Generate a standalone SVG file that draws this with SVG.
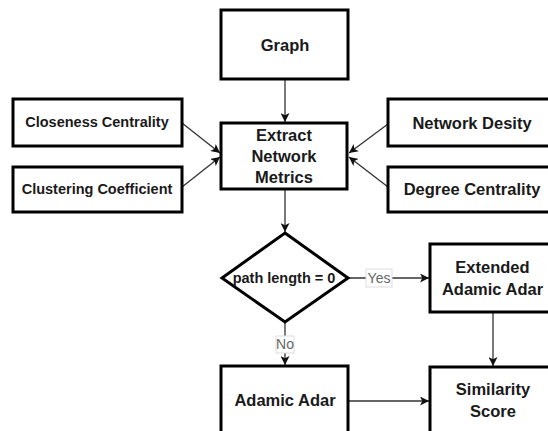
<svg xmlns="http://www.w3.org/2000/svg" width="548" height="431" viewBox="0 0 548 431">
<style>
.box{fill:#fff;stroke:#000;stroke-width:3}
.t{font-family:"Liberation Sans",Arial,sans-serif;font-weight:bold;fill:#1a1a1a;text-anchor:middle}
.l{font-size:16.5px}
.s{font-size:14.5px}
.c{fill:none;stroke:#333;stroke-width:1.3}
.lb{fill:#fff;stroke:#ddd;stroke-width:1}
.lt{font-family:"Liberation Sans",Arial,sans-serif;font-size:14px;fill:#666;text-anchor:middle}
</style>
<defs>
<marker id="a" viewBox="0 0 10 10" refX="10" refY="5" markerWidth="9" markerHeight="9" markerUnits="userSpaceOnUse" orient="auto">
<path d="M0,0 L10,5 L0,10 L2.5,5 Z" fill="#111"/>
</marker>
</defs>
<rect width="548" height="431" fill="#fff"/>
<g id="connectors">
<line class="c" x1="285" y1="79" x2="285" y2="122" marker-end="url(#a)"/>
<line class="c" x1="182" y1="123" x2="220" y2="153" marker-end="url(#a)"/>
<line class="c" x1="182" y1="187" x2="220" y2="157" marker-end="url(#a)"/>
<line class="c" x1="388" y1="124" x2="349" y2="153" marker-end="url(#a)"/>
<line class="c" x1="388" y1="187" x2="349" y2="157" marker-end="url(#a)"/>
<line class="c" x1="285" y1="189" x2="285" y2="232" marker-end="url(#a)"/>
<line class="c" x1="348" y1="278" x2="429" y2="278" marker-end="url(#a)"/>
<line class="c" x1="285" y1="322" x2="285" y2="365" marker-end="url(#a)"/>
<line class="c" x1="493" y1="312" x2="493" y2="366" marker-end="url(#a)"/>
<line class="c" x1="348" y1="401" x2="429" y2="401" marker-end="url(#a)"/>
<g id="label-yes">
<rect class="lb" x="366" y="269" width="26" height="18"/>
<text class="lt" x="379" y="283">Yes</text>
</g>
<g id="label-no">
<rect class="lb" x="276" y="336" width="18" height="17"/>
<text class="lt" x="285" y="349">No</text>
</g>
</g>
<g id="graph">
<rect class="box" x="221" y="10" width="127" height="69"/>
<text class="t l" x="285" y="51">Graph</text>
</g>
<g id="extract">
<rect class="box" x="221" y="123" width="126" height="66"/>
<text class="t l" x="284" y="141">Extract</text>
<text class="t l" x="284" y="162">Network</text>
<text class="t l" x="284" y="183">Metrics</text>
</g>
<g id="closeness">
<rect class="box" x="13" y="99" width="169" height="47"/>
<text class="t s" x="97" y="127">Closeness Centrality</text>
</g>
<g id="clustering">
<rect class="box" x="13" y="167" width="169" height="45"/>
<text class="t s" x="97" y="194">Clustering Coefficient</text>
</g>
<g id="density">
<rect class="box" x="388" y="99" width="180" height="47"/>
<text class="t l" x="472" y="128.5">Network Desity</text>
</g>
<g id="degree">
<rect class="box" x="388" y="167" width="180" height="45"/>
<text class="t l" x="472" y="195">Degree Centrality</text>
</g>
<g id="decision">
<polygon class="box" points="285,233 348,278 285,322 222,278"/>
<text class="t s" x="284" y="283">path length = 0</text>
</g>
<g id="extended">
<rect class="box" x="430" y="244" width="140" height="68"/>
<text class="t l" x="492.5" y="273">Extended</text>
<text class="t l" x="492.5" y="295">Adamic Adar</text>
</g>
<g id="adamic">
<rect class="box" x="221" y="366" width="127" height="80"/>
<text class="t l" x="285" y="406">Adamic Adar</text>
</g>
<g id="similarity">
<rect class="box" x="430" y="367" width="140" height="80"/>
<text class="t l" x="493" y="395">Similarity</text>
<text class="t l" x="493" y="417">Score</text>
</g>
</svg>
